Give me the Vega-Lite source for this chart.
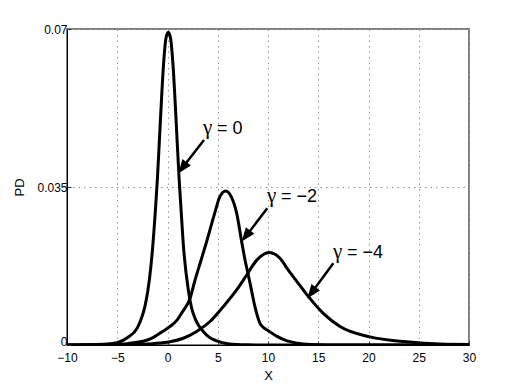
{
  "$schema": "https://vega.github.io/schema/vega-lite/v6.json",
  "width": 402,
  "height": 316,
  "autosize": {"type": "none"},
  "padding": {"left": 67, "top": 29, "right": 49, "bottom": 44},
  "background": "white",
  "config": {
    "font": "Liberation Sans",
    "view": {"stroke": "#808080", "strokeWidth": 2},
    "axis": {
      "domainColor": "black",
      "domainWidth": 1,
      "grid": true,
      "gridColor": "#999999",
      "gridDash": [1.5, 4],
      "gridWidth": 1,
      "ticks": true,
      "tickSize": -4,
      "tickColor": "#333333",
      "labelFlush": false,
      "labelOverlap": false,
      "labelFont": "Liberation Sans",
      "labelFontSize": 12,
      "labelColor": "black",
      "titleFont": "Liberation Sans",
      "titleFontSize": 13,
      "titleFontWeight": "normal",
      "titleColor": "black"
    }
  },
  "datasets": {
    "curves": [
      {"series": "g0", "x": -10, "y": 0},
      {"series": "g0", "x": -8, "y": 0.00005},
      {"series": "g0", "x": -6, "y": 0.0002},
      {"series": "g0", "x": -5, "y": 0.0005},
      {"series": "g0", "x": -4, "y": 0.0016},
      {"series": "g0", "x": -3, "y": 0.0038},
      {"series": "g0", "x": -2.5, "y": 0.0065},
      {"series": "g0", "x": -2.2, "y": 0.009},
      {"series": "g0", "x": -1.8, "y": 0.0145},
      {"series": "g0", "x": -1.5, "y": 0.021},
      {"series": "g0", "x": -1.2, "y": 0.03},
      {"series": "g0", "x": -1.0, "y": 0.037},
      {"series": "g0", "x": -0.7, "y": 0.05},
      {"series": "g0", "x": -0.4, "y": 0.062},
      {"series": "g0", "x": -0.15, "y": 0.068},
      {"series": "g0", "x": 0.08, "y": 0.0693},
      {"series": "g0", "x": 0.3, "y": 0.068},
      {"series": "g0", "x": 0.55, "y": 0.062},
      {"series": "g0", "x": 0.85, "y": 0.05},
      {"series": "g0", "x": 1.15, "y": 0.037},
      {"series": "g0", "x": 1.35, "y": 0.03},
      {"series": "g0", "x": 1.6, "y": 0.0215},
      {"series": "g0", "x": 2.07, "y": 0.0122},
      {"series": "g0", "x": 2.4, "y": 0.0082},
      {"series": "g0", "x": 2.74, "y": 0.0059},
      {"series": "g0", "x": 3.1, "y": 0.0043},
      {"series": "g0", "x": 3.56, "y": 0.003},
      {"series": "g0", "x": 4.1, "y": 0.0018},
      {"series": "g0", "x": 4.9, "y": 0.0009},
      {"series": "g0", "x": 6.0, "y": 0.0003},
      {"series": "g0", "x": 8.0, "y": 0.00005},
      {"series": "g0", "x": 10, "y": 0},
      {"series": "g0", "x": 30, "y": 0},

      {"series": "g2", "x": -10, "y": 0},
      {"series": "g2", "x": -6, "y": 0.00005},
      {"series": "g2", "x": -4, "y": 0.0003},
      {"series": "g2", "x": -2, "y": 0.0011},
      {"series": "g2", "x": -1.4, "y": 0.0017},
      {"series": "g2", "x": -0.5, "y": 0.003},
      {"series": "g2", "x": 0.3, "y": 0.0042},
      {"series": "g2", "x": 0.9, "y": 0.0054},
      {"series": "g2", "x": 1.5, "y": 0.0074},
      {"series": "g2", "x": 2.24, "y": 0.0103},
      {"series": "g2", "x": 2.74, "y": 0.0144},
      {"series": "g2", "x": 3.3, "y": 0.0185},
      {"series": "g2", "x": 3.8, "y": 0.0222},
      {"series": "g2", "x": 4.7, "y": 0.0292},
      {"series": "g2", "x": 5.2, "y": 0.0328},
      {"series": "g2", "x": 5.8, "y": 0.0341},
      {"series": "g2", "x": 6.35, "y": 0.0328},
      {"series": "g2", "x": 6.88, "y": 0.0292},
      {"series": "g2", "x": 7.38, "y": 0.0229},
      {"series": "g2", "x": 7.7, "y": 0.019},
      {"series": "g2", "x": 8.04, "y": 0.0155},
      {"series": "g2", "x": 8.35, "y": 0.0122},
      {"series": "g2", "x": 8.7, "y": 0.0085},
      {"series": "g2", "x": 9.2, "y": 0.0048},
      {"series": "g2", "x": 9.6, "y": 0.0038},
      {"series": "g2", "x": 10.0, "y": 0.0032},
      {"series": "g2", "x": 10.9, "y": 0.0019},
      {"series": "g2", "x": 11.9, "y": 0.0009},
      {"series": "g2", "x": 12.9, "y": 0.0004},
      {"series": "g2", "x": 14.2, "y": 0.0001},
      {"series": "g2", "x": 16, "y": 0},
      {"series": "g2", "x": 30, "y": 0},

      {"series": "g4", "x": -10, "y": 0},
      {"series": "g4", "x": -5, "y": 0.00005},
      {"series": "g4", "x": -3, "y": 0.0001},
      {"series": "g4", "x": -1.5, "y": 0.0003},
      {"series": "g4", "x": 0.25, "y": 0.0007},
      {"series": "g4", "x": 1.57, "y": 0.0015},
      {"series": "g4", "x": 2.9, "y": 0.003},
      {"series": "g4", "x": 4.23, "y": 0.0052},
      {"series": "g4", "x": 5.55, "y": 0.0085},
      {"series": "g4", "x": 6.88, "y": 0.0122},
      {"series": "g4", "x": 7.88, "y": 0.0155},
      {"series": "g4", "x": 8.88, "y": 0.0188},
      {"series": "g4", "x": 9.5, "y": 0.02},
      {"series": "g4", "x": 10.13, "y": 0.0205},
      {"series": "g4", "x": 10.7, "y": 0.0201},
      {"series": "g4", "x": 11.19, "y": 0.0192},
      {"series": "g4", "x": 12.02, "y": 0.0166},
      {"series": "g4", "x": 12.9, "y": 0.014},
      {"series": "g4", "x": 13.85, "y": 0.0112},
      {"series": "g4", "x": 15.5, "y": 0.007},
      {"series": "g4", "x": 17.16, "y": 0.0041},
      {"series": "g4", "x": 20.15, "y": 0.0018},
      {"series": "g4", "x": 23.8, "y": 0.0007},
      {"series": "g4", "x": 27.1, "y": 0.0002},
      {"series": "g4", "x": 30, "y": 0.0001}
    ],
    "notes": [
      {"sym": "γ", "rest": "= 0", "tx": 3.53, "ty": 0.0468, "x0": 3.63, "y0": 0.0454, "x1": 1.5, "y1": 0.0393, "hx": 1.07, "hy": 0.038},
      {"sym": "γ", "rest": "= −2", "tx": 9.9, "ty": 0.0317, "x0": 9.93, "y0": 0.0303, "x1": 7.81, "y1": 0.0241, "hx": 7.38, "hy": 0.0229},
      {"sym": "γ", "rest": "= −4", "tx": 16.47, "ty": 0.0192, "x0": 16.5, "y0": 0.0181, "x1": 14.33, "y1": 0.0116, "hx": 13.91, "hy": 0.0103}
    ]
  },
  "layer": [
    {
      "data": {"name": "curves"},
      "mark": {"type": "line", "color": "black", "strokeWidth": 3, "interpolate": "monotone", "clip": true},
      "encoding": {
        "x": {
          "field": "x", "type": "quantitative",
          "scale": {"domain": [-10, 30], "nice": false, "zero": false},
          "axis": {"values": [-10, -5, 0, 5, 10, 15, 20, 25, 30], "title": "X", "labelPadding": 11, "titlePadding": 6}
        },
        "y": {
          "field": "y", "type": "quantitative",
          "scale": {"domain": [0, 0.07], "nice": false},
          "axis": {
            "values": [0, 0.035, 0.07], "format": ".3~f", "title": "PD", "labelPadding": 4, "titlePadding": 10,
            "labelOffset": {"condition": {"test": "datum.value === 0", "value": -4}, "value": 0}
          }
        },
        "detail": {"field": "series"}
      }
    },
    {
      "data": {"name": "notes"},
      "mark": {"type": "rule", "color": "black", "strokeWidth": 2.5},
      "encoding": {
        "x": {"field": "x0", "type": "quantitative"},
        "y": {"field": "y0", "type": "quantitative"},
        "x2": {"field": "x1"},
        "y2": {"field": "y1"}
      }
    },
    {
      "data": {"name": "notes"},
      "mark": {"type": "point", "shape": "M0,0L-0.38,1L0.38,1Z", "filled": true, "color": "black", "opacity": 1, "size": 784, "angle": 217},
      "encoding": {
        "x": {"field": "hx", "type": "quantitative"},
        "y": {"field": "hy", "type": "quantitative"}
      }
    },
    {
      "data": {"name": "notes"},
      "mark": {"type": "text", "align": "left", "baseline": "alphabetic", "fontSize": 21, "font": "Liberation Serif", "color": "black"},
      "encoding": {
        "x": {"field": "tx", "type": "quantitative"},
        "y": {"field": "ty", "type": "quantitative"},
        "text": {"field": "sym"}
      }
    },
    {
      "data": {"name": "notes"},
      "mark": {"type": "text", "align": "left", "baseline": "alphabetic", "fontSize": 18, "font": "Liberation Sans", "color": "black", "dx": 14},
      "encoding": {
        "x": {"field": "tx", "type": "quantitative"},
        "y": {"field": "ty", "type": "quantitative"},
        "text": {"field": "rest"}
      }
    }
  ]
}
